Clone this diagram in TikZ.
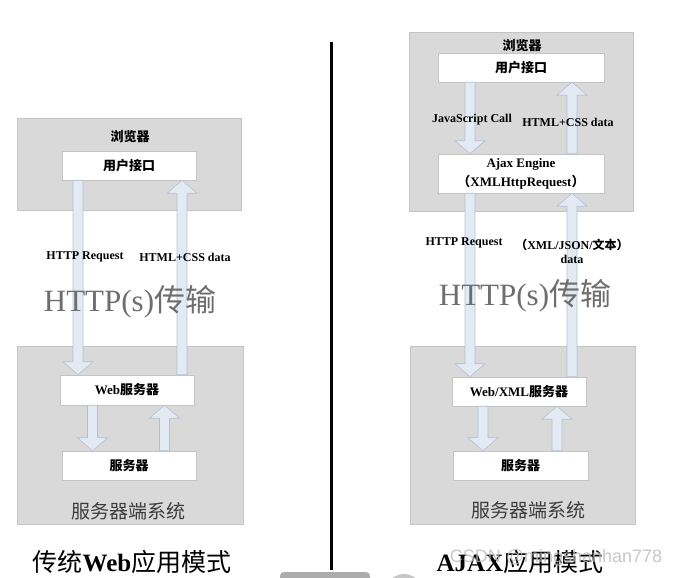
\documentclass[tikz,border=0pt]{standalone}
\usepackage{fontspec}
\setmainfont{Liberation Serif}
\newfontfamily\cjk{Noto Sans CJK SC}
\newfontfamily\wmfont{Liberation Sans}
\usetikzlibrary{calc}

\definecolor{panelgray}{HTML}{D9D9D9}
\definecolor{paneledge}{HTML}{C4C4C4}
\definecolor{pipefill}{HTML}{E3EAF4}
\definecolor{pipeedge}{HTML}{B4C0D2}
\definecolor{bigtext}{HTML}{6E6E6E}
\definecolor{systext}{HTML}{3C3C3C}

\begin{document}
\begin{tikzpicture}[x=1pt,y=-1pt,
  panel/.style={draw=paneledge, line width=0.8pt, fill=panelgray, inner sep=0pt},
  box/.style={draw=paneledge, line width=0.5pt, fill=white, inner sep=0pt,
              font=\fontsize{13}{15}\selectfont\bfseries},
  lbl/.style={font=\fontsize{12}{14}\selectfont\bfseries, inner sep=1pt},
  big/.style={text=bigtext, font=\fontsize{31}{33}\selectfont},
  sys/.style={text=systext, font=\fontsize{19}{21}\selectfont\cjk},
  ttl/.style={font=\fontsize{25}{27}\selectfont, inner sep=0pt},
  % block arrow, vertical, from start to target
  pipe/.style={draw=pipeedge, line width=0.6pt, fill=pipefill,
    to path={let \p1=(\tikztostart), \p2=(\tikztotarget),
                 \n1={(\y2>\y1)*2-1} in
      (\x1-5pt,\y1) -- (\x1-5pt,\y2-\n1*13pt) -- (\x1-15pt,\y2-\n1*13pt)
      -- (\x1,\y2) -- (\x1+15pt,\y2-\n1*13pt) -- (\x1+5pt,\y2-\n1*13pt)
      -- (\x1+5pt,\y1) -- cycle}}]
  \useasboundingbox (0,0) rectangle (673,578);

  % left: classic web
  \node[panel, minimum width=224pt, minimum height=92pt]  (browserL) at (129,164) {};
  \node[panel, minimum width=226pt, minimum height=178pt] (serverL)  at (130,435) {};
  \node[font=\fontsize{13}{15}\selectfont\cjk\bfseries] (brL) at (130,137) {浏览器};
  \node[box, minimum width=134pt, minimum height=29pt] (uiL)  at (129,165.5) {\cjk 用户接口};
  \node[box, minimum width=134pt, minimum height=30pt] (webL) at (127,390) {Web{\cjk 服务器}};
  \node[box, minimum width=134pt, minimum height=29pt] (srvL) at (129,465.5) {\cjk 服务器};

  \draw[pipe] (uiL.south -| 78,0) to (webL.north -| 78,0);
  \draw[pipe] (webL.north -| 182,0) to (uiL.south -| 182,0);
  \draw[pipe] (webL.south -| 92.5,0) to (srvL.north -| 92.5,0);
  \draw[pipe] (srvL.north -| 164.5,0) to (webL.south -| 164.5,0);

  \node[lbl] (reqL)  at (85,257)  {HTTP Request};
  \node[lbl] (respL) at (185,257) {HTML+CSS data};
  \node[big] (transL) at (130,302) {HTTP(s){\cjk 传输}};
  \node[sys] (sysL) at (128,511) {服务器端系统};
  \node[ttl] (titleL) at (132,562) {{\cjk 传统}\textbf{Web}{\cjk 应用模式}};

  % divider
  \draw[line width=3pt] (331,42) -- (331,570);

  % right: ajax
  \node[panel, minimum width=224pt, minimum height=179pt] (browserR) at (521,121.5) {};
  \node[panel, minimum width=225pt, minimum height=178pt] (serverR)  at (522.5,435) {};
  \node[font=\fontsize{13}{15}\selectfont\cjk\bfseries] (brR) at (522,46) {浏览器};
  \node[box, minimum width=166pt, minimum height=29pt] (uiR) at (521,67.5) {\cjk 用户接口};
  \node[box, minimum width=166pt, minimum height=39pt, align=center,
        font=\fontsize{13}{19}\selectfont\bfseries] (ajax) at (521,173.5)
        {Ajax Engine\\{\cjk （}XMLHttpRequest{\cjk ）}};
  \node[box, minimum width=134pt, minimum height=29pt] (webR) at (519,391.5) {Web/XML{\cjk 服务器}};
  \node[box, minimum width=135pt, minimum height=29pt] (srvR) at (520.5,465.5) {\cjk 服务器};

  \draw[pipe] (uiR.south -| 470,0) to (ajax.north -| 470,0);
  \draw[pipe] (ajax.north -| 572,0) to (uiR.south -| 572,0);
  \draw[pipe] (ajax.south -| 470,0) to (webR.north -| 470,0);
  \draw[pipe] (webR.north -| 572,0) to (ajax.south -| 572,0);
  \draw[pipe] (webR.south -| 483,0) to (srvR.north -| 483,0);
  \draw[pipe] (srvR.north -| 557,0) to (webR.south -| 557,0);

  \node[lbl] (jsR)   at (472,120) {JavaScript Call};
  \node[lbl] (respR) at (568,122) {HTML+CSS data};
  \node[lbl] (reqR)  at (464,243) {HTTP Request};
  \node[lbl, align=center] (xmlR) at (572,251.5) {{\cjk （}XML/JSON/{\cjk 文本）}\\data};
  \node[big] (transR) at (525,296) {HTTP(s){\cjk 传输}};
  \node[sys] (sysR) at (528,510) {服务器端系统};
  \node[ttl] (titleR) at (520,562) {\textbf{AJAX}{\cjk 应用模式}};

  % bottom strip
  \fill[gray!65, rounded corners=4pt] (280,572) rectangle (370,590);
  \fill[gray!45] (404,592) circle (18);
  \node[text=gray!55, opacity=0.8, font=\fontsize{18}{20}\selectfont\wmfont] (wm) at (556,558) {CSDN @mingshanhan778};
\end{tikzpicture}
\end{document}
